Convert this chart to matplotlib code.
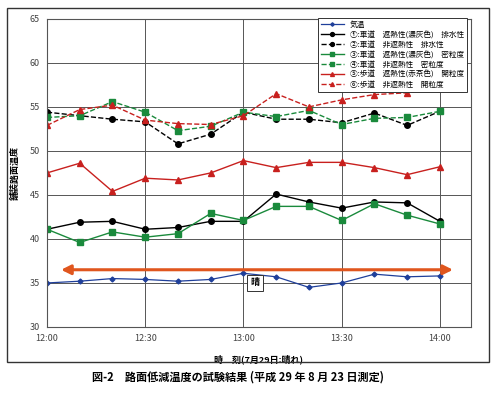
import numpy as np
import matplotlib
matplotlib.use("Agg")
import matplotlib.pyplot as plt
from matplotlib.patches import Rectangle

plt.rcParams['font.family'] = ['Noto Sans CJK JP', 'DejaVu Sans']

# minutes after 12:00
minutes = [0, 10, 20, 30, 40, 50, 60, 70, 80, 90, 100, 110, 120]
tick_pos = [0, 30, 60, 90, 120]
tick_labels = ["12:00", "12:30", "13:00", "13:30", "14:00"]

air = [35.0, 35.2, 35.5, 35.4, 35.2, 35.4, 36.1, 35.7, 34.5, 35.0, 36.0, 35.7, 35.8]
s1 = [41.1, 41.9, 42.0, 41.1, 41.3, 42.0, 42.0, 45.1, 44.2, 43.5, 44.2, 44.1, 42.0]
s2 = [54.4, 54.0, 53.6, 53.3, 50.8, 51.9, 54.4, 53.6, 53.6, 53.2, 54.3, 52.9, 54.5]
s3 = [41.1, 39.6, 40.8, 40.2, 40.6, 42.9, 42.1, 43.7, 43.7, 42.1, 44.0, 42.7, 41.7]
s4 = [53.8, 54.0, 55.6, 54.4, 52.3, 52.8, 54.4, 53.9, 54.6, 53.0, 53.7, 53.8, 54.5]
s5 = [47.5, 48.6, 45.4, 46.9, 46.7, 47.5, 48.9, 48.1, 48.7, 48.7, 48.1, 47.3, 48.2]
s6 = [52.9, 54.7, 55.2, 53.5, 53.1, 53.0, 54.0, 56.5, 55.0, 55.8, 56.4, 56.6, 57.2]

labels = ["気温",
          "①:車道　遮熱性(濃灰色)　排水性",
          "②:車道　非遮熱性　排水性",
          "③:車道　遮熱性(濃灰色)　密粒度",
          "④:車道　非遮熱性　密粒度",
          "⑤:歩道　遮熱性(赤茶色)　開粒度",
          "⑥:歩道　非遮熱性　開粒度"]

fig = plt.figure(figsize=(5, 3.93), dpi=100)
ax = fig.add_axes([0.094, 0.168, 0.848, 0.784])

# outer frame around chart
fig.patches.append(Rectangle((0.014, 0.079), 0.964, 0.901, transform=fig.transFigure,
                             fill=False, edgecolor='#333333', linewidth=1.0))

ax.plot(minutes, air, color='#1f3f9a', marker='D', markersize=2.5, linewidth=0.9, label=labels[0])
ax.plot(minutes, s1, color='black', marker='o', markersize=4, linewidth=1.0, label=labels[1])
ax.plot(minutes, s2, color='black', marker='o', markersize=4, linewidth=1.0, linestyle='--', label=labels[2])
ax.plot(minutes, s3, color='#1a8a3c', marker='s', markersize=4, linewidth=1.0, label=labels[3])
ax.plot(minutes, s4, color='#1a8a3c', marker='s', markersize=4, linewidth=1.0, linestyle='--', label=labels[4])
ax.plot(minutes, s5, color='#c8201e', marker='^', markersize=4, linewidth=1.0, label=labels[5])
ax.plot(minutes, s6, color='#c8201e', marker='^', markersize=4, linewidth=1.0, linestyle='--', label=labels[6])

# sunny-period arrow
ax.annotate("", xy=(124, 36.5), xytext=(4.3, 36.5),
            arrowprops=dict(arrowstyle='<|-|>', color='#e0561e', lw=2.2,
                            mutation_scale=14, shrinkA=0, shrinkB=0))
ax.text(63.5, 35.0, "晴", fontsize=6.5, fontweight='bold', ha='center', va='center',
        bbox=dict(boxstyle='square,pad=0.4', facecolor='white', edgecolor='#333333', linewidth=0.7))

ax.set_xlim(0, 129.5)
ax.set_ylim(30, 65)
ax.set_xticks(tick_pos)
ax.set_xticklabels(tick_labels)
ax.set_yticks(np.arange(30, 66, 5))
ax.tick_params(labelsize=6.5, length=0, pad=5, labelcolor='#444444')
ax.grid(True, color='#555555', linewidth=0.7)
for sp in ax.spines.values():
    sp.set_color('#555555')
    sp.set_linewidth(0.8)

ax.set_ylabel("舗装路面温度", fontsize=6.5, fontweight='bold', labelpad=7)
ax.set_xlabel("時　刻(7月29日:晴れ)", fontsize=6.5, fontweight='bold', labelpad=8)

leg = ax.legend(loc='upper right', bbox_to_anchor=(1.0, 1.015), fontsize=5.5, frameon=True,
                fancybox=False, edgecolor='#333333', framealpha=1, handlelength=3.0,
                labelspacing=0.25, borderpad=0.4, markerscale=0.7)
leg.get_frame().set_linewidth(0.7)

fig.text(0.475, 0.04, "図-2　路面低減温度の試験結果 (平成 29 年 8 月 23 日測定)",
         fontsize=8, fontweight='bold', ha='center', va='center')

fig.savefig("out.png", dpi=100)
